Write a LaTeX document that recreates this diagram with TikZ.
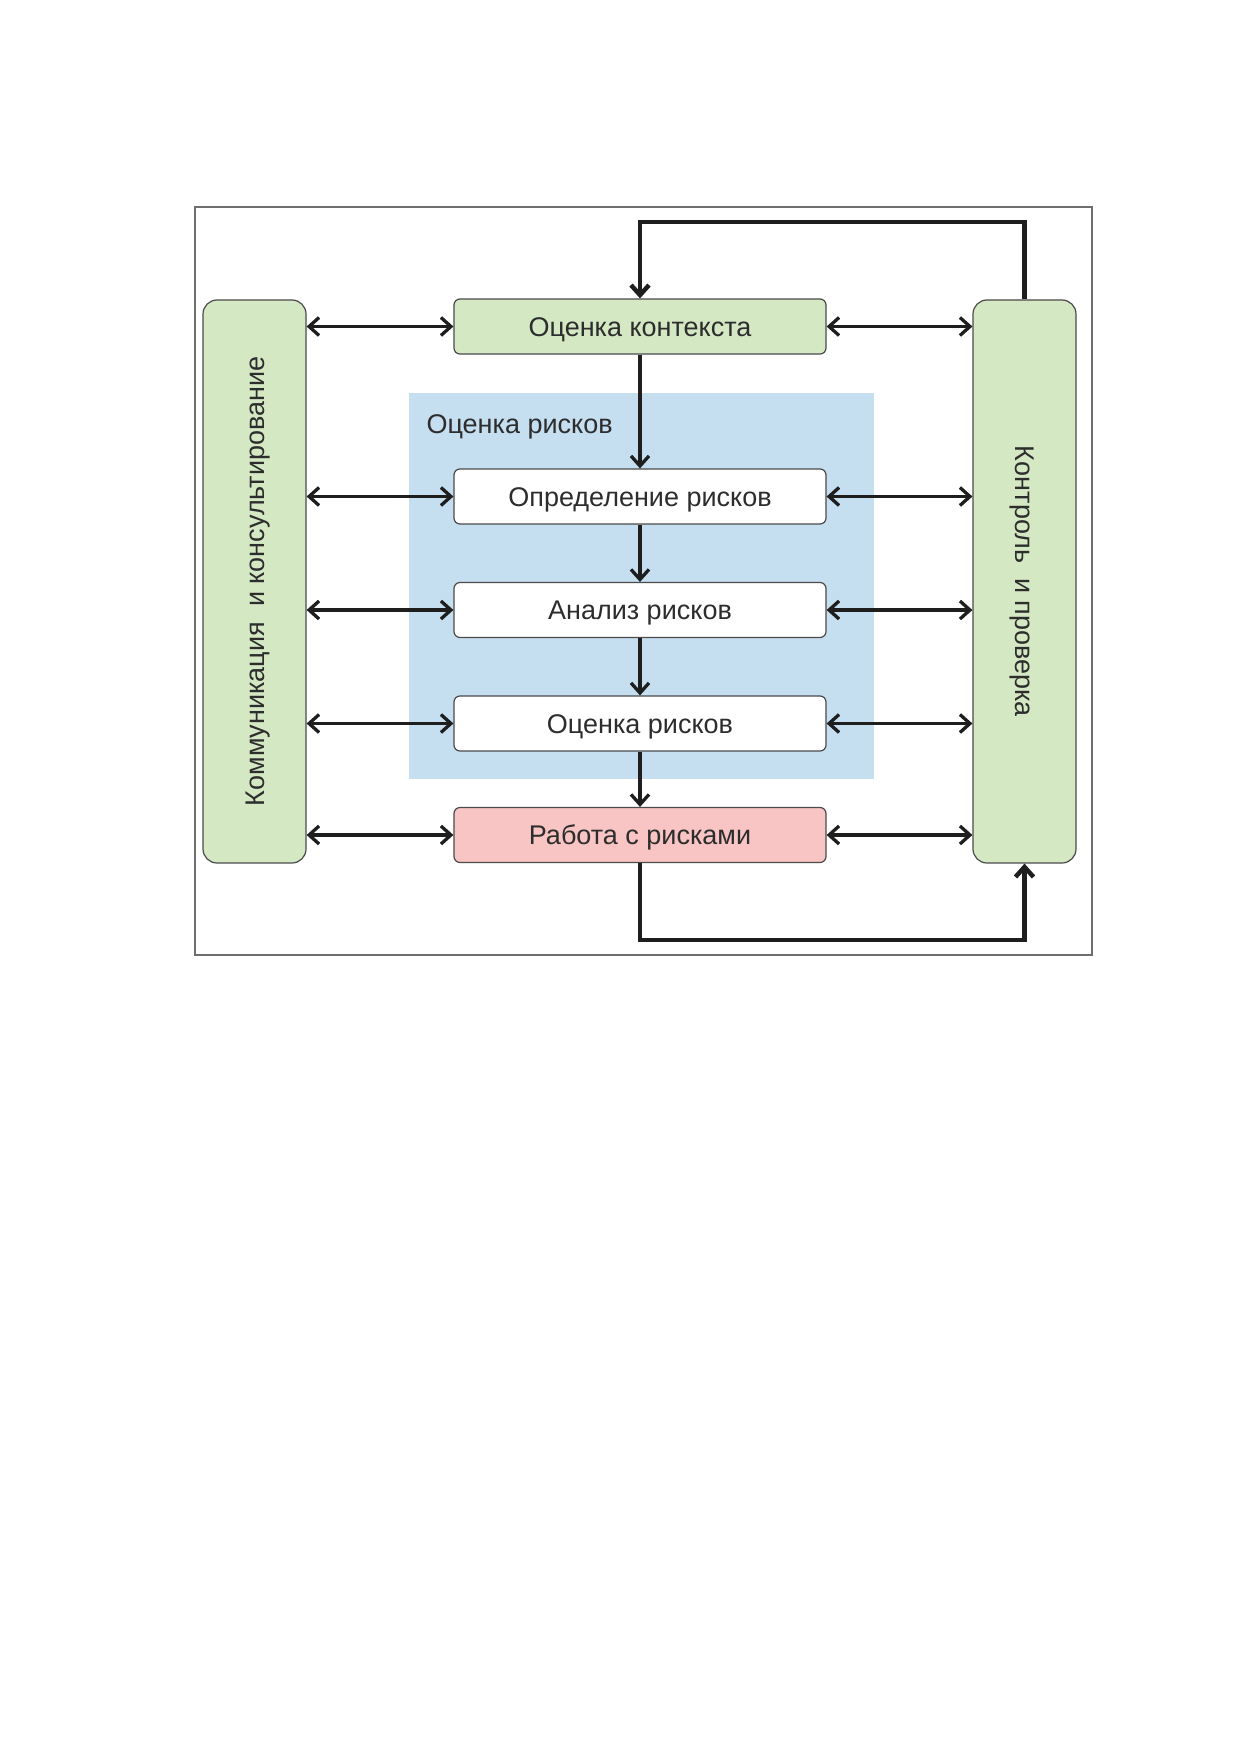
\documentclass[tikz,border=0pt]{standalone}
\usepackage{fontspec}
\setmainfont{Liberation Sans}
\usetikzlibrary{arrows.meta,calc}
\definecolor{boxgreen}{RGB}{213,232,196}
\definecolor{boxblue}{RGB}{197,222,240}
\definecolor{boxpink}{RGB}{248,196,196}
\definecolor{edgegray}{RGB}{75,75,75}
\definecolor{framegray}{RGB}{110,110,110}
\definecolor{inkdark}{RGB}{30,30,30}
\definecolor{textgray}{RGB}{45,45,45}
\begin{document}
\begin{tikzpicture}[x=1pt,y=-1pt,
  every node/.style={font=\fontsize{27}{31}\selectfont, text=textgray},
  stepbox/.style={draw=edgegray, line width=1.2pt, rounded corners=6pt,
    minimum width=372pt, minimum height=55pt, inner sep=0pt,
    text height=19pt, text depth=0pt},
  sidebox/.style={draw=edgegray, line width=1.2pt, rounded corners=14pt,
    fill=boxgreen, minimum width=103pt, minimum height=563pt, inner sep=0pt},
  link/.style={draw=inkdark, line width=3.3pt, {Straight Barb[length=10pt,width=18pt]}-{Straight Barb[length=10pt,width=18pt]}},
  flow/.style={draw=inkdark, line width=3.3pt, -{Straight Barb[length=10pt,width=18pt]}},
  loop/.style={draw=inkdark, line width=4.5pt, -{Straight Barb[length=10pt,width=18pt]}}
]
\useasboundingbox (0,0) rectangle (1239,1752);
\fill[white] (0,0) rectangle (1239,1752);
% outer frame
\draw[framegray, line width=1.2pt] (195,207) rectangle (1092,955);
% blue risk assessment area
\fill[boxblue] (409,393) rectangle (874,779);
\node[anchor=base west] (ralabel) at (423,433) {Оценка рисков};
% side boxes
\node[sidebox] (lb) at (254.5,581.5) {};
\node[rotate=90, text height=19pt, text depth=0pt] (lbt) at (lb.center) {Коммуникация \ и консультирование};
\node[sidebox] (rb) at (1024.5,581.5) {};
\node[rotate=-90, text height=19pt, text depth=0pt] (rbt) at (rb.center) {Контроль \ и проверка};
% column boxes
\node[stepbox, fill=boxgreen] (ctx) at (640,326.5) {Оценка контекста};
\node[stepbox, fill=white] (ident) at (640,496.5) {Определение рисков};
\node[stepbox, fill=white] (anal) at (640,610) {Анализ рисков};
\node[stepbox, fill=white] (eval) at (640,723.5) {Оценка рисков};
\node[stepbox, fill=boxpink] (treat) at (640,835) {Работа с рисками};
% horizontal links
\foreach \n in {ctx,ident,anal,eval,treat}{
  \draw[link] (lb.east |- \n.west) -- (\n.west);
  \draw[link] (\n.east) -- (rb.west |- \n.east);
}
% vertical flow
\draw[flow] (ctx.south) -- (ident.north);
\draw[flow] (ident.south) -- (anal.north);
\draw[flow] (anal.south) -- (eval.north);
\draw[flow] (eval.south) -- (treat.north);
% feedback loops
\coordinate (tl) at (640,222);
\coordinate (bl) at (640,940);
\draw[loop] (rb.north) |- (tl) -- (ctx.north);
\draw[loop] (treat.south) -- (bl) -| (rb.south);
\end{tikzpicture}
\end{document}
